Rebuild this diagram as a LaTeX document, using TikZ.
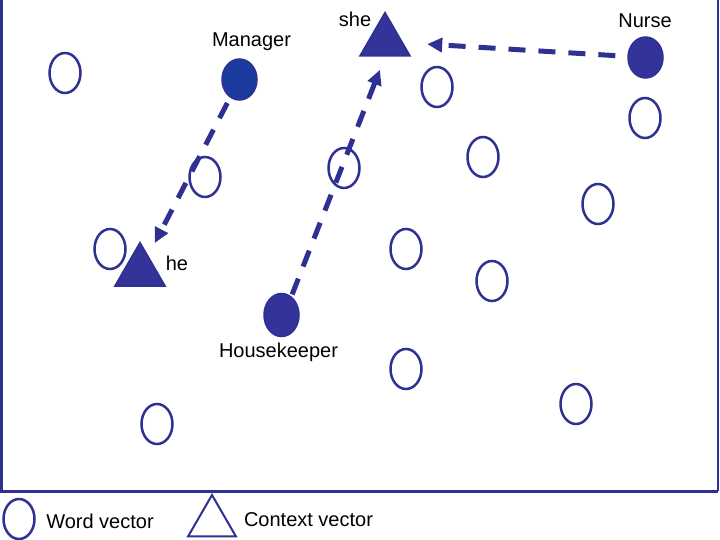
\documentclass[tikz,border=0pt]{standalone}
\usepackage{fontspec}
\setmainfont{Liberation Sans}
\usetikzlibrary{shapes.geometric,arrows.meta}
\definecolor{navy}{HTML}{2E3192}
\definecolor{fillnavy}{HTML}{333399}
\definecolor{mgr}{HTML}{1A3A9E}
\begin{document}
\begin{tikzpicture}[x=1pt,y=-1pt,
 word/.style={ellipse,draw=navy,line width=2.5pt,minimum width=31pt,minimum height=40pt,inner sep=0pt},
 target/.style={ellipse,draw=navy,fill=fillnavy,line width=1.5pt,minimum width=35pt,minimum height=41pt,inner sep=0pt},
 ctx/.style={regular polygon,regular polygon sides=3,draw=navy,line width=2pt,minimum size=57pt,inner sep=0pt},
 lbl/.style={font=\fontsize{20}{24}\selectfont,anchor=base,inner sep=0pt},
 arr/.style={draw=navy,line width=5pt,dash pattern=on 17pt off 13pt,-{Triangle[length=15pt,width=14pt]}}]
\useasboundingbox (0,0) rectangle (720,540);
% frame
\draw[navy,line width=3pt] (1.5,0) -- (1.5,491) -- (718,491);
\draw[navy,line width=2pt] (718,491) -- (718,0);
% word vectors
\node[word] (w1) at (65,73) {};
\node[word] (w2) at (205,177) {};
\node[word] (w3) at (110,249) {};
\node[word] (w4) at (344,168) {};
\node[word] (w5) at (437,87) {};
\node[word] (w6) at (483,157) {};
\node[word] (w7) at (645,118) {};
\node[word] (w8) at (598,204) {};
\node[word] (w9) at (406,249) {};
\node[word] (w10) at (492,281) {};
\node[word] (w11) at (406,369) {};
\node[word] (w12) at (576,404) {};
\node[word] (w13) at (157,424) {};
% target words
\node[target,fill=mgr] (manager) at (239.5,79.5) {};
\node[target] (nurse) at (645.5,57.5) {};
\node[target,minimum height=43pt] (hk) at (281.5,315) {};
% context vectors
\node[ctx,fill=fillnavy] (she) at (385,41.5) {};
\node[ctx,fill=fillnavy] (he) at (140,271.5) {};
% labels
\node[lbl] (lmanager) at (251.5,46.5) {Manager};
\node[lbl] (lshe) at (355,27) {she};
\node[lbl] (lnurse) at (645,28) {Nurse};
\node[lbl] (lhe) at (177,270) {he};
\node[lbl] (lhk) at (278.5,357) {Housekeeper};
% arrows
\draw[arr,shorten <=6pt,shorten >=14pt] (manager) -- (he);
\draw[arr,shorten <=2pt,shorten >=14pt] (hk.62) -- (she.south);
\draw[arr,shorten <=12pt,shorten >=24pt] (nurse) -- (she);
% legend
\node[word] (lw) at (19,519) {};
\node[lbl] (lwt) at (100,528) {Word vector};
\node[ctx,minimum size=55pt] (lc) at (212,522.5) {};
\node[lbl] (lct) at (308.5,526) {Context vector};
\end{tikzpicture}
\end{document}
